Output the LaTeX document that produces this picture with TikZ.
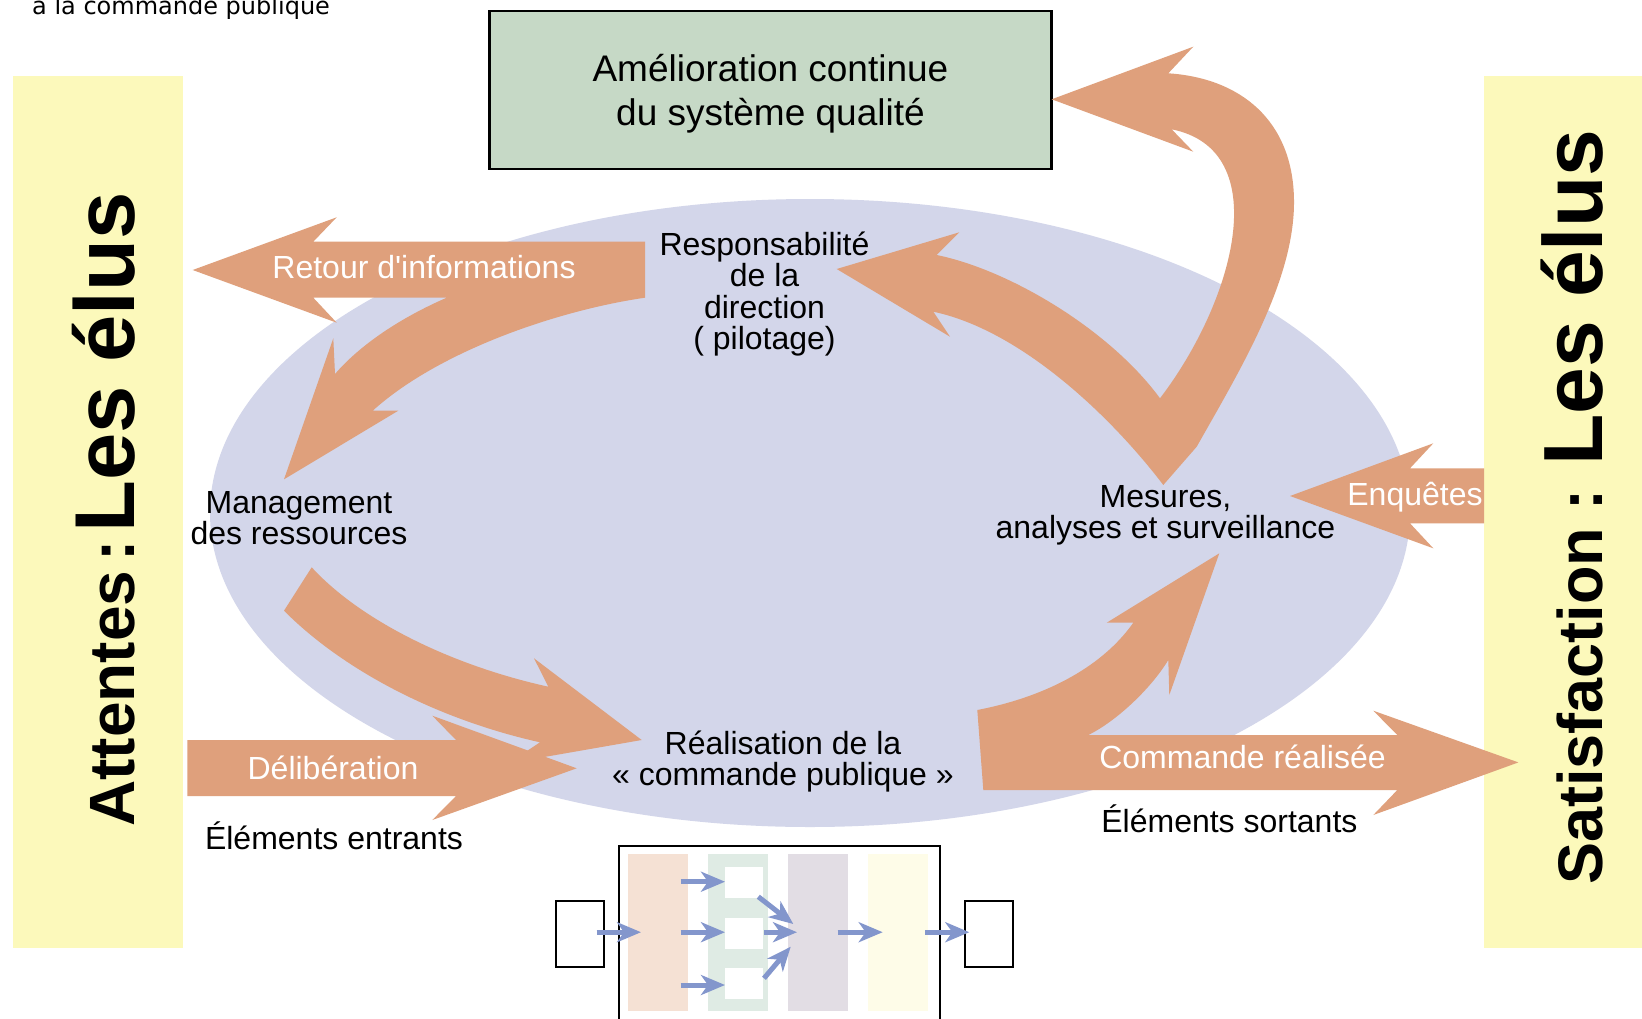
\documentclass[tikz,border=0pt]{standalone}
\usepackage{fontspec}
\setmainfont{Liberation Sans}
\newfontfamily\plainsans{Liberation Sans}
\newfontfamily\dejavu{DejaVu Sans}
\usetikzlibrary{arrows.meta}
\definecolor{orng}{HTML}{DFA07C}
\definecolor{ellc}{HTML}{D3D6EA}
\definecolor{yel}{HTML}{FCF9BB}
\definecolor{grn}{HTML}{C6D9C6}
\definecolor{pch}{HTML}{F5E1D4}
\definecolor{lgr}{HTML}{DFEBE4}
\definecolor{lav}{HTML}{E2DDE4}
\definecolor{lyl}{HTML}{FEFCE8}
\definecolor{abl}{HTML}{8396CC}
\newcommand\mlines[2]{\vtop{\baselineskip=#1\relax\lineskiplimit=-100pt\lineskip=0pt\halign{\hfil##\hfil\cr #2\crcr}}}
\begin{document}
\begin{tikzpicture}[x=1pt,y=-1pt,
  lbl/.style={inner sep=0pt, font=\fontsize{32}{32}\selectfont},
  wlbl/.style={lbl, text=white},
  arw/.style={fill=orng},
  sarw/.style={draw=abl, line width=5pt, -{Stealth[length=24pt,width=20pt,inset=7pt]}},
  col/.style={inner sep=0pt, minimum width=60.4pt, minimum height=157pt, anchor=north west},
  wbox/.style={fill=white, inner sep=0pt, minimum width=37.7pt, minimum height=31pt, anchor=north west},
  sbox/.style={draw=black, line width=2pt, inner sep=0pt, minimum width=48pt, minimum height=65.4pt, anchor=north west},
  vlbl/.style={rotate=90, anchor=base west, inner sep=0pt, font=\bfseries}
]
\useasboundingbox (0,0) rectangle (1642,1018);
\clip (0,0) rectangle (1642,1018);
\fill[white] (0,0) rectangle (1642,1018);

% side bars
\fill[yel] (13,76) rectangle (183,948);
\fill[yel] (1484,76) rectangle (1642,948);

% ellipse
\fill[ellc] (810,513) ellipse [x radius=600, y radius=314];

% green box
\node[draw=black, line width=2.5pt, fill=grn, minimum width=562pt, minimum height=158pt,
      inner sep=0pt, text height=34pt, text depth=50pt, font=\fontsize{37}{37}\selectfont,
      anchor=north west] (amel) at (488.2,9.7)
      {\mlines{44pt}{Amélioration continue\cr du système qualité}};

% Retour d'informations arrow and curved arrow to Management
\fill[arw] (192.7,270) -- (336.7,217.3) -- (313.3,241.7) -- (645,241.7) -- (645,297.7)
  .. controls (560,310) and (440,350) .. (372.7,410.7) -- (398.3,410.7) -- (284,479.3)
  -- (333.3,338.3) -- (335,374)
  .. controls (360,345) and (400,318) .. (446.7,297.7) -- (313.3,297.7) -- (336.7,322.7) -- cycle;

% V arrow (Mesures -> Responsabilite, Mesures -> Amelioration)
\fill[arw] (836.7,269) -- (959.3,232.3) -- (936.7,255)
  .. controls (1010,270) and (1110,330) .. (1160,398.3)
  .. controls (1235,300) and (1275,150) .. (1171.7,129.3)
  -- (1193.3,151.7) -- (1051.7,99.3) -- (1193.3,46.7) -- (1168.3,73.3)
  .. controls (1240,78) and (1293,120) .. (1294,200)
  .. controls (1295,280) and (1240,370) .. (1196.7,446.7)
  -- (1163.3,485)
  .. controls (1110,415) and (1020,330) .. (933.3,311.7)
  -- (950,336.7) -- cycle;

% Management -> Realisation
\fill[arw] (311.7,567.3) .. controls (360,620) and (450,665) .. (548.3,686.7)
  -- (534,658.3) -- (641.7,740) -- (508.7,763.2) -- (540,742.3)
  .. controls (440,720) and (345,672) .. (284,610.7) -- cycle;

% Deliberation
\fill[arw] (187.3,740) -- (456,740) -- (432.3,715.7) -- (576.7,768.3) -- (432.3,820)
  -- (456,796) -- (187.3,796) -- cycle;

% Commande realisee + up arrow to Mesures
\fill[arw] (977.3,710) .. controls (1040,698) and (1100,670) .. (1133.3,622.7)
  -- (1106.7,622.7) -- (1219.3,553.3) -- (1169.3,695) -- (1168.3,660)
  .. controls (1150,690) and (1115,722) .. (1088.3,735)
  -- (1397.3,735) -- (1373.3,710.7) -- (1518.4,762.4) -- (1373.3,815) -- (1397.3,790)
  -- (983.3,790) -- cycle;

% Enquetes
\fill[arw] (1484,468.3) -- (1410,468.3) -- (1433.3,443.3) -- (1290,496) -- (1433.3,548.3)
  -- (1410,523.3) -- (1484,523.3) -- cycle;

% labels
\node[anchor=base west, inner sep=0pt, font=\dejavu\fontsize{24}{24}\selectfont] (top) at (32,14) {à la commande publique};
\node[wlbl, anchor=base] (retour) at (424,278) {Retour d{\plainsans '}informations};
\node[lbl, anchor=base] (resp) at (764.5,255.5) {\mlines{31.4pt}{Responsabilité\cr de la\cr direction\cr ( pilotage)}};
\node[lbl, anchor=base] (mgmt) at (299,513) {\mlines{31.5pt}{Management\cr des ressources}};
\node[lbl, anchor=base] (mes) at (1165.5,507) {\mlines{31.5pt}{Mesures,\cr analyses et surveillance}};
\node[lbl, anchor=base] (real) at (783,754) {\mlines{31pt}{Réalisation de la\cr « commande publique »}};
\node[wlbl, anchor=base] (enq) at (1415,505.5) {Enquêtes};
\node[wlbl, anchor=base] (delib) at (333,779.5) {Délibération};
\node[wlbl, anchor=base] (cmd) at (1242.5,768) {Commande réalisée};
\node[lbl, anchor=base] (sort) at (1229.4,832) {Éléments sortants};
\node[lbl, anchor=base] (entr) at (334,849.5) {Éléments entrants};

% vertical titles
\node[vlbl] (att) at (134,827) {{\fontsize{64}{64}\selectfont Attentes\hspace{9pt}:\hspace{8pt}}{\fontsize{85}{85}\selectfont Les élus}};
\node[vlbl] (sat) at (1602,885) {{\fontsize{63}{63}\selectfont Satisfaction : }{\fontsize{84}{84}\selectfont Les élus}};

% process diagram
\node[draw=black, line width=2pt, inner sep=0pt, minimum width=321.6pt, minimum height=220pt, anchor=north west] (proc) at (617.7,845) {};
\node[col, fill=pch] (c1) at (627.3,854) {};
\node[col, fill=lgr] (c2) at (707.3,854) {};
\node[col, fill=lav] (c3) at (787.3,854) {};
\node[col, fill=lyl] (c4) at (867.3,854) {};
\node[wbox] (w1) at (725,866.7) {};
\node[wbox] (w2) at (725,917.3) {};
\node[wbox] (w3) at (725,967.3) {};
\node[sbox] (inb) at (555,900.3) {};
\node[sbox] (outb) at (964.3,900.3) {};

\coordinate (a0s) at (596.7,932.2); \coordinate (a0e) at (641,932.2);
\coordinate (a1s) at (680.7,881.7); \coordinate (a1e) at (725,881.7);
\coordinate (a2s) at (680.7,932.2); \coordinate (a2e) at (725,932.2);
\coordinate (a3s) at (680.7,985);   \coordinate (a3e) at (725,985);
\coordinate (a4s) at (758.3,896.7); \coordinate (a4e) at (793.3,924);
\coordinate (a5s) at (764,932.2);   \coordinate (a5e) at (797,932.2);
\coordinate (a6s) at (764,978.3);   \coordinate (a6e) at (790.7,946.7);
\coordinate (a7s) at (837.7,932.2); \coordinate (a7e) at (882.7,932.2);
\coordinate (a8s) at (925,932.2);   \coordinate (a8e) at (969.3,932.2);
\foreach \i in {0,...,8} { \draw[sarw] (a\i s) -- (a\i e); }
\end{tikzpicture}
\end{document}
